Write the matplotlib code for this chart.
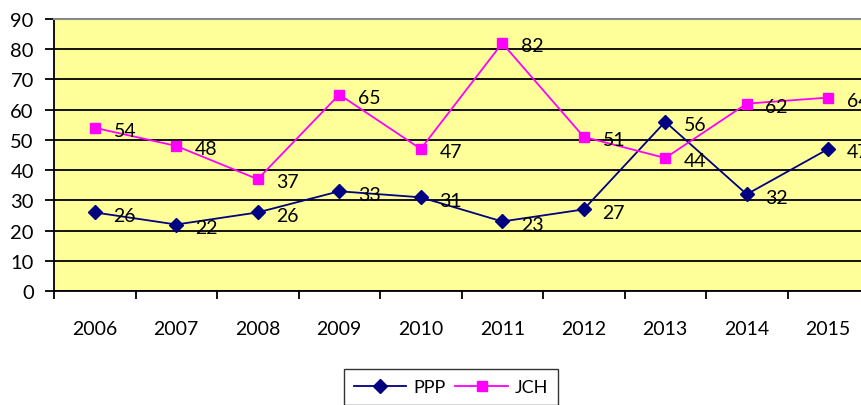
import matplotlib
matplotlib.use('Agg')
import matplotlib.pyplot as plt
import numpy as np

years = ['2006', '2007', '2008', '2009', '2010', '2011', '2012', '2013', '2014', '2015']
ppp = [26, 22, 26, 33, 31, 23, 27, 56, 32, 47]
jch = [54, 48, 37, 65, 47, 82, 51, 44, 62, 64]

plt.rcParams['font.family'] = ['Lato', 'DejaVu Sans']

fig = plt.figure(figsize=(8.61, 4.06), dpi=100)
ax = fig.add_axes([54/861, 1 - 292/406, 815/861, 272/406])
ax.set_facecolor('#FFFF99')

x = np.arange(len(years)) + 0.5
ax.plot(x, ppp, color='#000080', marker='D', markersize=7.5, lw=1.3, label='PPP', clip_on=False, zorder=3)
ax.plot(x, jch, color='#FF00FF', marker='s', markersize=7.5, lw=1.3, label='JCH', clip_on=False, zorder=3)

for xi, v in zip(x, ppp):
    ax.annotate(str(v), (xi, v), xytext=(13.5, -2), textcoords='offset points',
                ha='left', va='center', fontsize=14, zorder=4)
for xi, v in zip(x, jch):
    ax.annotate(str(v), (xi, v), xytext=(13.5, -2), textcoords='offset points',
                ha='left', va='center', fontsize=14, zorder=4)

ax.set_xlim(0, len(years))
ax.set_ylim(0, 90)
ax.set_yticks(range(0, 91, 10))
ax.yaxis.grid(True, color='black', lw=1.3)
ax.set_axisbelow(True)

ax.set_xticks(np.arange(len(years) + 1))
ax.set_xticklabels([])
ax.set_xticks(x, minor=True)
ax.set_xticklabels(years, minor=True)
ax.tick_params(axis='x', which='major', direction='out', length=6, width=1.3)
ax.tick_params(axis='x', which='minor', length=0, pad=21, labelsize=14)
ax.tick_params(axis='y', direction='out', length=6.5, width=1.3, pad=8, labelsize=14.5)

ax.spines['right'].set_visible(False)
ax.spines['top'].set_color('#888888')
ax.spines['top'].set_linewidth(1.5)
ax.spines['left'].set_linewidth(1.3)
ax.spines['bottom'].set_linewidth(1.3)

leg = fig.legend(loc='upper center', bbox_to_anchor=(451/861, 1 - 370/406), ncol=2,
                 frameon=True, fancybox=False, edgecolor='black', fontsize=13,
                 handlelength=2.9, columnspacing=0.55, borderpad=0.55, handletextpad=0.4,
                 borderaxespad=0)
leg.get_frame().set_linewidth(1.0)

fig.savefig('out.png', dpi=100)
